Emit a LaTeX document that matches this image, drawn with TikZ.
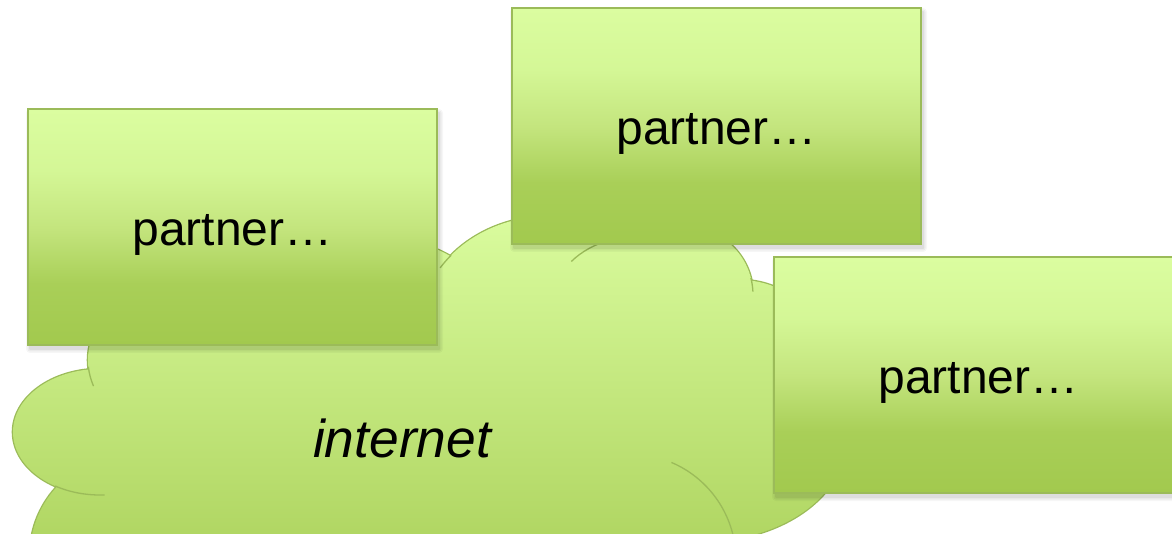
\documentclass[tikz,border=0pt]{standalone}
\usepackage{fontspec}
\setmainfont{Liberation Sans}
\usetikzlibrary{calc}
\definecolor{edge}{HTML}{9BBB59}
\definecolor{gtop}{HTML}{DBFDA0}
\definecolor{gmid}{HTML}{C4E57E}
\definecolor{gbot}{HTML}{A2C94E}
\pgfdeclareverticalshading{boxshade}{100bp}{color(0bp)=(gbot); color(25bp)=(gbot); color(38bp)=(gbot!88!gtop); color(50bp)=(gmid); color(62bp)=(gtop!88!gbot); color(75bp)=(gtop); color(100bp)=(gtop)}
\tikzset{
  pbox/.style={shade, shading=boxshade, draw=edge, line width=1.3pt,
    minimum width=409pt, minimum height=236pt, inner sep=0pt, outer sep=0pt},
  ptext/.style={anchor=base, font=\fontsize{48}{58}\selectfont},
  dimple/.style={draw=edge, line width=1.3pt},
}
\newcommand\boxshadow[4]{%
  \foreach \e/\o in {4/0.035,2.5/0.045,1/0.06}{%
    \fill[black,opacity=\o,rounded corners=\e pt] (#1+2-\e,-#4-4-\e) rectangle (#3+2+\e,-#2-4+\e);
  }}
\newcommand\cloudshapes{%
  (250,-360) ellipse [x radius=162pt, y radius=101pt]
  (380,-330) ellipse [x radius=118pt, y radius=92pt]
  (100,-432) ellipse [x radius=87pt, y radius=63pt]
  (130,-555) ellipse [x radius=100pt, y radius=100pt]
  (420,-420) ellipse [x radius=330pt, y radius=160pt]
  (550,-330) ellipse [x radius=131pt, y radius=114pt]
  (640,-300) ellipse [x radius=86pt, y radius=64pt]
  (690,-295) ellipse [x radius=63pt, y radius=66pt]
  (740,-390) ellipse [x radius=100pt, y radius=110pt]
  (700,-440) ellipse [x radius=146pt, y radius=102pt]}
\begin{document}
\begin{tikzpicture}[x=1pt,y=1pt]
\useasboundingbox (0,0) rectangle (1172,-534);
\clip (0,0) rectangle (1172,-534);
\fill[white] (0,0) rectangle (1172,-534);
% cloud
\draw[edge, line width=2.6pt] \cloudshapes;
\begin{scope}
  \clip \cloudshapes;
  \shade[top color=gtop, bottom color=gbot] (0,-205) rectangle (900,-650);
\end{scope}
% cloud dimples
\draw[dimple] ($(250,-360)+(184:162pt and 101pt)$) arc[start angle=184, end angle=195, x radius=162pt, y radius=101pt];
\draw[dimple] ($(100,-432)+(239:87pt and 63pt)$) arc[start angle=239, end angle=273, x radius=87pt, y radius=63pt];
\draw[dimple] ($(550,-330)+(139:131pt and 114pt)$) arc[start angle=139, end angle=147, x radius=131pt, y radius=114pt];
\draw[dimple] ($(640,-300)+(143:86pt and 64pt)$) arc[start angle=143, end angle=110, x radius=86pt, y radius=64pt];
\draw[dimple] ($(690,-295)+(15:63pt and 66pt)$) arc[start angle=15, end angle=3, x radius=63pt, y radius=66pt];
\draw[dimple] ($(630,-560)+(67:106pt)$) arc[start angle=67, end angle=5, radius=106pt];
\node[anchor=base, font=\fontsize{53.3}{64}\selectfont\itshape] (inet) at (402,-457) {internet};
% boxes
\boxshadow{28}{109}{437}{345}
\node[pbox] (b1) at (232.5,-227) {};
\node[ptext] (t1) at ($(b1.center)+(0,-18.5)$) {partner…};
\boxshadow{512}{8}{921}{244}
\node[pbox] (b2) at (716.5,-126) {};
\node[ptext] (t2) at ($(b2.center)+(0,-18.5)$) {partner…};
\boxshadow{774}{257}{1183}{493}
\node[pbox] (b3) at (978.5,-375) {};
\node[ptext] (t3) at ($(b3.center)+(0,-18.5)$) {partner…};
\end{tikzpicture}
\end{document}
